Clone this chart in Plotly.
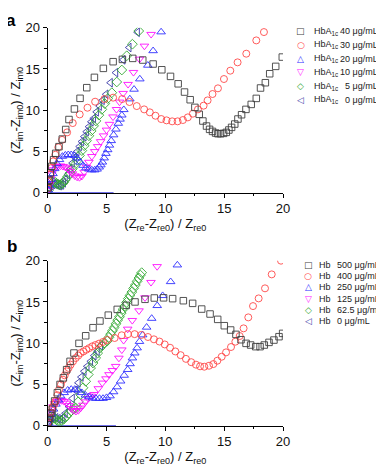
import plotly.graph_objects as go

FONT = "Arial, Liberation Sans, sans-serif"
# the page body keeps an 8 px margin, so the figure is 8 px smaller than the window
PAGE_PAD = 8
W, H = 384 - PAGE_PAD, 468 - PAGE_PAD

# ---- panel a : HbA1c ----
a_conc = ["40", "30", "20", "10", "5", "0"]

a40_x = [0.03, 0.12, 0.22, 0.35, 0.5, 0.68, 0.96, 1.24, 1.53, 1.81, 2.27, 2.75, 3.32, 3.97, 4.73,
         5.56, 6.35, 7.23, 8.08, 8.96, 9.7, 10.44, 11.09, 11.63, 12.11, 12.51, 12.88, 13.19, 13.5,
         13.76, 14.01, 14.27, 14.47, 14.7, 14.95, 15.18, 15.4, 15.63, 15.9, 16.17, 16.48, 16.85,
         17.3, 17.73, 18.09, 18.5, 18.87, 19.38, 19.94]
a40_y = [0.6, 1.5, 2.4, 3.2, 4.0, 4.77, 5.58, 6.5, 7.66, 8.87, 10.15, 11.44, 12.73, 13.98, 15.07,
         15.88, 16.16, 16.28, 16.08, 15.6, 14.9, 14.1, 13.2, 12.2, 11.27, 10.34, 9.5, 8.69, 8.08,
         7.68, 7.43, 7.23, 7.15, 7.15, 7.19, 7.31, 7.6, 7.92, 8.32, 8.93, 9.45, 10.1,
         10.7, 11.43, 12.69, 13.33, 14.42, 15.31, 16.44]

a30_x = [0.03, 0.1, 0.2, 0.32, 0.47, 0.65, 0.9, 1.22, 1.65, 2.13, 2.72, 3.38, 4.03, 4.82, 5.56,
         6.33, 6.95, 7.57, 8.2, 8.68, 9.16, 9.65, 10.1, 10.58, 11.04, 11.49, 11.91, 12.34, 12.77,
         13.25, 13.59, 14.01, 14.47, 14.98, 15.52, 16.14, 16.88, 17.73, 18.38]
a30_y = [0.5, 1.3, 2.2, 3.0, 3.8, 4.6, 5.5, 6.4, 7.31, 8.44, 9.49, 10.3, 11.03, 11.35, 11.52,
         11.35, 10.99, 10.5, 10.1, 9.74, 9.33, 8.93, 8.77, 8.65, 8.65, 8.81, 9.13, 9.58, 10.1,
         10.55, 11.19, 11.96, 12.65, 13.78, 14.79, 15.8, 16.85, 18.46, 19.47]

a20_x = [0.05, 0.15, 0.3, 0.45, 0.6, 0.8, 1.0, 1.25, 1.5, 1.75, 2.0, 2.25, 2.5, 2.75, 3.0, 3.25,
         3.5, 3.75, 4.0, 4.2, 4.38, 4.52, 4.65, 4.8, 4.95, 5.1, 5.25, 5.4, 5.6, 5.8, 6.0, 6.15,
         6.3, 6.47, 6.98, 7.34, 7.83, 8.51, 8.96, 9.64]
a20_y = [0.3, 0.9, 1.6, 2.3, 2.9, 3.5, 4.0, 4.4, 4.55, 4.6, 4.6, 4.5, 4.2, 3.7, 3.3, 3.0,
         2.85, 2.75, 2.75, 2.85, 3.1, 3.36, 3.7, 4.2, 4.75, 5.2, 5.75, 6.3, 7.0, 7.7, 8.4, 8.9,
         9.4, 10.06, 11.36, 12.53, 13.78, 15.44, 17.2, 19.48]

a10_x = [0.05, 0.15, 0.25, 0.35, 0.5, 0.7, 0.9, 1.1, 1.3, 1.5, 1.7, 1.9, 2.1, 2.3, 2.5, 2.7,
         2.9, 3.1, 3.3, 3.5, 3.75, 4.0, 4.25, 4.5, 4.75, 5.0, 5.25, 5.55, 5.85, 6.1, 6.41, 6.83,
         7.29, 7.8, 8.22, 8.79]
a10_y = [0.3, 1.0, 1.7, 2.3, 2.8, 3.1, 3.2, 3.25, 3.2, 3.1, 2.9, 2.6, 2.3, 2.05, 1.9, 1.85,
         2.0, 2.5, 3.1, 3.7, 4.4, 5.0, 5.6, 6.2, 6.9, 7.6, 8.3, 9.2, 10.1, 11.0, 12.05, 13.14,
         14.59, 16.2, 17.78, 19.2]

a5_x = [0.05, 0.15, 0.3, 0.45, 0.6, 0.75, 0.9, 1.05, 1.2, 1.35, 1.5, 1.7, 1.9, 2.1, 2.3, 2.5,
        2.7, 2.9, 3.1, 3.3, 3.5, 3.7, 3.9, 4.1, 4.35, 4.6, 4.85, 5.1, 5.45, 5.87, 6.3, 6.72,
        7.2, 7.74]
a5_y = [0.25, 0.7, 1.1, 1.3, 1.3, 1.15, 1.0, 0.95, 1.05, 1.25, 1.55, 1.95, 2.4, 2.9, 3.4, 3.9,
        4.5, 5.1, 5.7, 6.3, 6.9, 7.5, 8.1, 8.7, 9.4, 10.1, 10.8, 11.4, 12.12, 13.42, 14.87, 16.6,
        18.0, 19.6]

a0_x = [0.05, 0.15, 0.3, 0.45, 0.6, 0.75, 0.9, 1.05, 1.2, 1.35, 1.5, 1.7, 1.9, 2.1, 2.3, 2.5,
        2.7, 2.9, 3.1, 3.3, 3.5, 3.7, 3.9, 4.15, 4.4, 4.65, 4.96, 5.33, 5.79, 6.41, 6.92, 7.63]
a0_y = [0.2, 0.55, 0.85, 1.0, 1.05, 1.0, 0.9, 0.85, 0.95, 1.2, 1.6, 2.2, 2.9, 3.6, 4.3, 5.0,
        5.6, 6.2, 6.8, 7.4, 8.0, 8.6, 9.0, 9.8, 10.5, 11.2, 11.93, 13.33, 14.55, 16.1, 17.6, 19.44]

a_base_x = [0, 5.6]
a_base_y = [0, 0]

# ---- panel b : Hb ----
b_conc = ["500", "400", "250", "125", "62.5", "0"]

b500_x = [0.05, 0.15, 0.27, 0.4, 0.59, 0.82, 1.05, 1.33, 1.61, 1.9, 2.23, 2.66, 3.23, 3.85, 4.44,
          5.15, 5.91, 6.68, 7.42, 8.27, 9.06, 9.85, 10.62, 11.53, 12.32, 13.09, 13.8, 14.45,
          15.01, 15.55, 16.0, 16.43, 16.86, 17.25, 17.68, 18.05, 18.41, 18.81, 19.23, 19.66, 19.97]
b500_y = [0.4, 0.9, 1.5, 2.0, 3.0, 4.0, 5.0, 5.8, 6.79, 7.8, 8.81, 9.98, 10.9, 11.88, 12.69,
          13.4, 14.1, 14.59, 15.0, 15.32, 15.48, 15.5, 15.4, 15.15, 14.83, 14.14, 13.54, 12.89,
          12.12, 11.6, 11.07, 10.42, 9.98, 9.78, 9.58, 9.58, 9.78, 10.1, 10.38, 10.79, 11.19]

b400_x = [0.05, 0.15, 0.25, 0.4, 0.55, 0.68, 0.82, 0.96, 1.13, 1.3, 1.45, 1.61, 1.78, 1.95, 2.15,
          2.38, 2.6, 2.8, 3.04, 3.28, 3.52, 3.79, 4.06, 4.36, 4.7, 5.06, 5.69, 6.29, 6.82, 7.39,
          7.96, 8.52, 9.03, 9.5, 9.95, 10.4, 10.85, 11.3, 11.75, 12.2, 12.6, 12.95, 13.31, 13.71,
          14.08, 14.42, 14.79, 15.16, 15.58, 15.95, 16.32, 16.65, 17.05, 17.45, 17.93, 18.47,
          19.04, 19.83]
b400_y = [0.4, 1.0, 1.6, 2.2, 2.6, 3.0, 3.7, 4.36, 5.0, 5.58, 6.1, 6.59, 7.0, 7.4, 7.8,
          8.2, 8.5, 8.81, 9.0, 9.21, 9.4, 9.62, 9.78, 9.95, 10.15, 10.39, 10.63, 10.96, 11.1, 11.1,
          11.0, 10.75, 10.47, 10.2, 9.85, 9.45, 9.0, 8.55, 8.1, 7.7, 7.4, 7.2, 7.15, 7.27,
          7.47, 7.88, 8.36, 8.89, 9.54, 10.18, 10.87, 11.8, 13.13, 14.5, 15.43, 16.65,
          18.34, 20.0]

b250_x = [0.05, 0.15, 0.3, 0.5, 0.7, 0.9, 1.1, 1.4, 1.7, 2.0, 2.3, 2.6, 2.9, 3.2, 3.5, 3.8,
          4.1, 4.4, 4.7, 5.0, 5.3, 5.6, 5.9, 6.2, 6.5, 6.8, 7.0, 7.2, 7.4, 7.6, 7.8, 8.07, 8.41,
          8.84, 9.31, 9.77, 10.45, 11.02]
b250_y = [0.3, 0.8, 1.4, 2.0, 2.6, 3.1, 3.6, 4.0, 4.3, 4.4, 4.4, 4.3, 4.0, 3.7, 3.5, 3.35,
          3.3, 3.3, 3.3, 3.4, 3.6, 4.1, 4.7, 5.4, 6.1, 6.8, 7.5, 8.2, 8.8, 9.42, 10.2, 11.0, 11.93,
          13.0, 14.55, 15.76, 17.45, 19.47]

b125_x = [0.05, 0.15, 0.3, 0.45, 0.6, 0.8, 1.0, 1.2, 1.4, 1.6, 1.8, 2.0, 2.2, 2.4, 2.6, 2.8,
          3.0, 3.2, 3.45, 3.7, 3.93, 4.3, 4.64, 4.95, 5.21, 5.5, 5.78, 6.05, 6.3, 6.45, 6.8, 7.19,
          7.76, 8.27, 8.78, 9.3]
b125_y = [0.3, 1.0, 1.7, 2.3, 2.7, 2.95, 3.05, 3.05, 2.95, 2.75, 2.45, 2.1, 1.85, 1.75, 1.85, 2.15,
          2.5, 2.9, 3.3, 3.6, 3.8, 4.5, 5.18, 5.7, 6.2, 6.7, 7.2, 8.2, 9.2, 10.35, 11.72, 12.77,
          13.94, 15.52, 17.38, 19.3]

b62_x = [0.05, 0.15, 0.3, 0.45, 0.6, 0.75, 0.9, 1.05, 1.2, 1.4, 1.6, 1.8, 2.0, 2.2, 2.38, 2.6,
         2.8, 3.0, 3.23, 3.45, 3.65, 3.85, 4.08, 4.25, 4.44, 4.62, 4.8, 5.06, 5.2, 5.35, 5.5, 5.65,
         5.8, 5.95, 6.1, 6.25, 6.4, 6.55, 6.7, 6.85, 7.0, 7.15, 7.3, 7.45, 7.6, 7.75, 7.88, 7.99]
b62_y = [0.2, 0.55, 0.9, 1.0, 0.9, 0.7, 0.55, 0.5, 0.6, 0.85, 1.15, 1.5, 1.8, 2.0, 2.15, 2.9,
         3.76, 4.6, 5.38, 6.2, 7.0, 7.6, 8.2, 8.8, 9.42, 9.7, 10.0, 10.27, 10.7, 11.1, 11.5, 11.9,
         12.35, 12.8, 13.2, 13.65, 14.1, 14.5, 14.95, 15.4, 15.8, 16.2, 16.65, 17.05, 17.5, 17.9,
         18.25, 18.55]

b0_x = [0.05, 0.15, 0.3, 0.5, 0.7, 0.9, 1.1, 1.3, 1.5, 1.8, 2.1, 2.35, 2.6, 2.85, 3.1, 3.35,
        3.65, 3.95, 4.22, 4.5]
b0_y = [0.2, 0.6, 0.9, 1.0, 0.95, 0.85, 0.8, 1.0, 1.5, 2.3, 3.3, 4.3, 5.2, 5.9, 6.6, 7.2,
        7.8, 8.5, 9.02, 9.7]

b_base_x = [0, 5.8]
b_base_y = [0, 0]

colors = ["#404040", "#ff4a4a", "#3030ff", "#ff10ff", "#33a833", "#3a3aa8"]
symbols = ["square-open", "circle-open", "triangle-up-open", "triangle-down-open",
           "diamond-open", "triangle-left-open"]
sizes = [6.5, 7, 7.5, 7.5, 7.5, 7.5]
glyphs = ["\u25a1", "\u25cb", "\u25b3", "\u25bd", "\u25c7", "\u25c1"]

a_series = [(a40_x, a40_y), (a30_x, a30_y), (a20_x, a20_y), (a10_x, a10_y), (a5_x, a5_y), (a0_x, a0_y)]
b_series = [(b500_x, b500_y), (b400_x, b400_y), (b250_x, b250_y), (b125_x, b125_y),
            (b62_x, b62_y), (b0_x, b0_y)]


def px_x(v):
    # window pixel -> paper fraction
    return (v - PAGE_PAD) / W


def px_y(v):
    return 1 - (v - PAGE_PAD) / H


fig = go.Figure()

for xs_ax, ys_ax, base, series in (("x", "y", (a_base_x, a_base_y), a_series),
                                   ("x2", "y2", (b_base_x, b_base_y), b_series)):
    fig.add_trace(go.Scatter(x=base[0], y=base[1], mode="lines", xaxis=xs_ax, yaxis=ys_ax,
                             line=dict(color="#4040e0", width=1.5), showlegend=False))
    # draw low concentrations first so the big arcs sit on top
    for i in reversed(range(len(series))):
        sx, sy = series[i]
        fig.add_trace(go.Scatter(
            x=sx, y=sy, mode="markers", xaxis=xs_ax, yaxis=ys_ax, showlegend=False,
            marker=dict(symbol=symbols[i], size=sizes[i], color=colors[i],
                        line=dict(color=colors[i], width=0.9)),
        ))

axis_common = dict(
    range=[0, 20], showline=True, linecolor="black", linewidth=1.3, mirror=False,
    ticks="outside", ticklen=4, tickwidth=1.2, tickcolor="black", tick0=0, dtick=5,
    showgrid=False, zeroline=False, automargin=False,
    tickfont=dict(family=FONT, size=13, color="#111"),
    minor=dict(dtick=2.5, ticks="outside", ticklen=2.5, tickwidth=1, tickcolor="black", showgrid=False),
)
x_dom = [px_x(47.7), px_x(283)]
x_title = "(Z<sub>re</sub>-Z<sub>re0</sub>) / Z<sub>re0</sub>"
y_title = "(Z<sub>im</sub>-Z<sub>im0</sub>) / Z<sub>im0</sub>"
title_font = dict(family=FONT, size=13, color="#111")

fig.update_layout(
    width=W, height=H, margin=dict(l=0, r=0, t=0, b=0),
    paper_bgcolor="white", plot_bgcolor="white", showlegend=False,
    xaxis=dict(axis_common, domain=x_dom, anchor="y",
               title=dict(text=x_title, font=title_font, standoff=2)),
    yaxis=dict(axis_common, domain=[px_y(192.7), px_y(27.7)], anchor="x",
               title=dict(text=y_title, font=title_font, standoff=9)),
    xaxis2=dict(axis_common, domain=x_dom, anchor="y2",
                title=dict(text=x_title, font=title_font, standoff=2)),
    yaxis2=dict(axis_common, domain=[px_y(425.7), px_y(260.7)], anchor="x2",
                title=dict(text=y_title, font=title_font, standoff=9)),
)

# panel letters (the first one sits just under the top edge of the figure)
fig.add_annotation(xref="paper", yref="paper", x=px_x(5), y=1 - 2 / H, text="<b>a</b>",
                   showarrow=False, xanchor="left", yanchor="top", borderpad=0,
                   font=dict(family=FONT, size=17, color="black"))
fig.add_annotation(xref="paper", yref="paper", x=px_x(5), y=px_y(246), text="<b>b</b>",
                   showarrow=False, xanchor="left", yanchor="middle",
                   font=dict(family=FONT, size=17, color="black"))

# legends drawn as text rows
legend_font = dict(family=FONT, size=9, color="#222")
sym_font_size = 9
a_rows = [31, 44.8, 58.6, 72.4, 86.2, 100]
for i, conc in enumerate(a_conc):
    y = px_y(a_rows[i])
    fig.add_annotation(xref="paper", yref="paper", x=px_x(300.7), y=y, text=glyphs[i], showarrow=False,
                       xanchor="center", yanchor="middle",
                       font=dict(family="DejaVu Sans", size=sym_font_size, color=colors[i]))
    fig.add_annotation(xref="paper", yref="paper", x=px_x(312), y=y, text="HbA<sub>1c</sub>",
                       showarrow=False, xanchor="left", yanchor="middle", font=legend_font)
    fig.add_annotation(xref="paper", yref="paper", x=px_x(380), y=y, text=conc + " \u03bcg/mL",
                       showarrow=False, xanchor="right", yanchor="middle", font=legend_font)

b_rows = [265, 276.2, 287.4, 298.6, 309.8, 321]
for i, conc in enumerate(b_conc):
    y = px_y(b_rows[i])
    fig.add_annotation(xref="paper", yref="paper", x=px_x(308.3), y=y, text=glyphs[i], showarrow=False,
                       xanchor="center", yanchor="middle",
                       font=dict(family="DejaVu Sans", size=sym_font_size, color=colors[i]))
    fig.add_annotation(xref="paper", yref="paper", x=px_x(317), y=y, text="Hb", showarrow=False,
                       xanchor="left", yanchor="middle", font=legend_font)
    fig.add_annotation(xref="paper", yref="paper", x=px_x(335), y=y, text=conc + " \u03bcg/mL",
                       showarrow=False, xanchor="left", yanchor="middle", font=legend_font)

fig.write_html("out.html")
